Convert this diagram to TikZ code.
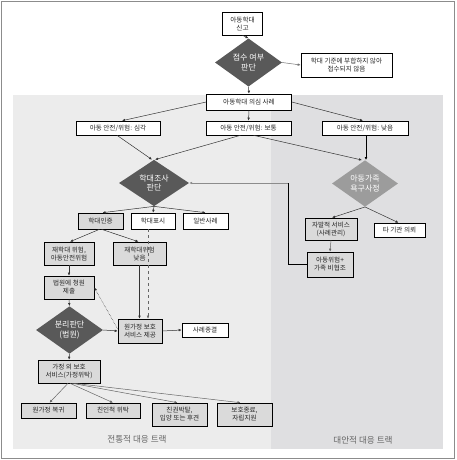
\documentclass[tikz,border=0pt]{standalone}
\usepackage{fontspec}
\setmainfont{Noto Sans CJK KR}
\usetikzlibrary{shapes.geometric,arrows.meta,calc}
\definecolor{darkd}{HTML}{595959}
\definecolor{lightd}{HTML}{9C9C9C}
\definecolor{boxg}{HTML}{DADADA}
\definecolor{leftbg}{HTML}{ECECEC}
\definecolor{rightbg}{HTML}{DFDFE1}
\definecolor{frame}{HTML}{8C8C8C}
\definecolor{lbl}{HTML}{666666}
\definecolor{ln}{HTML}{333333}
\tikzset{
  bx/.style={draw=black, line width=0.6pt, rectangle, inner sep=0pt, align=center,
    font=\fontsize{6.6}{8}\selectfont, text=black!85},
  wb/.style={bx, fill=white},
  gb/.style={bx, fill=boxg},
  dm/.style={diamond, inner sep=0pt, align=center, text=white,
    font=\fontsize{8}{9.8}\selectfont},
  dd/.style={dm, fill=darkd},
  ld/.style={dm, fill=lightd},
  ar/.style={draw=ln, line width=0.5pt, -{Latex[length=3pt,width=2.6pt]}},
  tracklbl/.style={text=lbl, font=\fontsize{8.6}{10}\selectfont}
}
\begin{document}
\begin{tikzpicture}[x=1pt,y=-1pt]
\useasboundingbox (0,0) rectangle (456,460);
\fill[white] (0,0) rectangle (456,460);
\fill[leftbg] (13,95) rectangle (271,449);
\fill[rightbg] (271,95) rectangle (443,449);
\draw[frame, line width=1pt] (1.5,1.5) rectangle (454.5,458);

\node[tracklbl] (t1) at (137,439) {전통적 대응 트랙};
\node[tracklbl] (t2) at (363,440) {대안적 대응 트랙};

\node[wb, minimum width=40pt, minimum height=23pt] (sin) at (242.5,23.5) {아동학대\\신고};
\node[dd, minimum width=67pt, minimum height=40pt] (d1) at (248.5,62.5) {접수 여부\\판단};
\node[wb, minimum width=91pt, minimum height=24pt] (rej) at (346.5,65) {학대 기준에 부합하지 않아\\접수되지 않음};
\node[wb, minimum width=85pt, minimum height=16pt] (sus) at (249,102) {아동학대 의심 사례};
\node[wb, minimum width=84pt, minimum height=14pt] (sev) at (118,128) {아동 안전/위험: 심각};
\node[wb, minimum width=85pt, minimum height=14pt] (mid) at (248.5,128) {아동 안전/위험: 보통};
\node[wb, minimum width=86pt, minimum height=14pt] (low) at (365,128) {아동 안전/위험: 낮음};

\node[dd, minimum width=70pt, minimum height=40pt] (d2) at (154,183) {학대조사\\판단};
\node[ld, minimum width=66pt, minimum height=40pt] (d3) at (365,183.5) {아동가족\\욕구사정};

\node[gb, minimum width=45pt, minimum height=16pt] (conf) at (100.5,221) {학대인증};
\node[wb, minimum width=44pt, minimum height=16pt] (ind) at (153,221) {학대표시};
\node[wb, minimum width=45pt, minimum height=16pt] (gen) at (205.5,221) {일반사례};

\node[gb, minimum width=50pt, minimum height=23pt] (hr) at (69,253.5) {재학대 위험,\\아동안전위험};
\node[gb, minimum width=53pt, minimum height=23pt] (lr) at (139.5,253.5) {재학대위험\\낮음};
\node[gb, minimum width=50pt, minimum height=23pt] (court) at (69,287.5) {법원에 청원\\제출};
\node[dd, minimum width=67pt, minimum height=38pt] (d4) at (69.5,330) {분리판단\\(법원)};
\node[gb, minimum width=44pt, minimum height=24pt] (home) at (140,331) {원가정 보호\\서비스 제공};
\node[wb, minimum width=46pt, minimum height=14pt] (close) at (205,330) {사례종결};
\node[gb, minimum width=62pt, minimum height=23pt] (foster) at (69,371.5) {가정 외 보호\\서비스(가정위탁)};

\node[gb, minimum width=55pt, minimum height=15pt] (b1) at (48.5,410.5) {원가정 복귀};
\node[gb, minimum width=54pt, minimum height=15pt] (b2) at (113,410.5) {친인척 위탁};
\node[gb, minimum width=55pt, minimum height=23pt] (b3) at (179.5,414.5) {친권박탈,\\입양 또는 후견};
\node[gb, minimum width=55pt, minimum height=23pt] (b4) at (244.5,414.5) {보호종료,\\자립지원};

\node[gb, minimum width=52pt, minimum height=22pt] (vol) at (331,229) {자발적 서비스\\(사례관리)};
\node[wb, minimum width=51pt, minimum height=14pt] (ref) at (399.5,230) {타 기관 의뢰};
\node[gb, minimum width=46pt, minimum height=25pt] (risk) at (330,264.5) {아동위험+\\가족 비협조};

\coordinate (rc1) at (288,264.5);
\coordinate (rc2) at (288,183);

% connectors
\draw[ar] (sin.south) -- (d1.north);
\draw[ar, draw=black!55] (d1.east) -- (rej.west);
\draw[ar] (d1.south) -- (sus.north);
\draw[ar] (sus.west) -- ($(sev.north)+(4,0)$);
\draw[ar] (sus.south) -- (mid.north);
\draw[ar] (sus.east) -- ($(low.north)+(-2,0)$);
\draw[ar] ($(sev.south)+(-1,0)$) -- ($(d2.north)+(-2,0)$);
\draw[ar] ($(mid.south)+(-8,0)$) -- ($(d2.north)+(1,0)$);
\draw[ar] ($(mid.south)+(5,0)$) -- ($(d3.north)+(-3,0)$);
\draw[draw=black, line width=1pt, -{Latex[length=3pt,width=2.8pt]}] ($(low.south)+(1,0)$) -- ($(d3.north)+(1,0)$);
\draw[ar] (d2.south) -- ($(conf.north)+(2,0)$);
\draw[ar] (d2.south) -- (ind.north);
\draw[ar] (d2.south) -- (gen.north);
\draw[ar] ($(conf.south)+(-1,0)$) -- ($(hr.north)+(1,0)$);
\draw[ar] ($(conf.south)+(1,0)$) -- ($(lr.north)+(-1,0)$);
\draw[ar] (lr.south) -- (lr.south |- home.north);
\draw[ar, dashed, draw=black!60] ($(ind.south)+(-5,0)$) -- ($(home.north)+(8,0)$);
\draw[ar] (hr.south) -- (court.north);
\draw[ar] (court.south) -- (d4.north);
\draw[ar] (d4.east) -- (home.west);
\draw[ar, densely dotted] ($(home.west)+(0,-2)$) -- (court.east);
\draw[ar] (home.east) -- (close.west);
\draw[ar] (d4.south) -- (foster.north);
\draw[ar, draw=black!60] ($(foster.south)+(-1,0)$) -- ($(b1.north)+(1,0)$);
\draw[ar, draw=black!60] ($(foster.south)+(1,0)$) -- (b2.north);
\draw[ar, draw=black!60] ($(foster.south)+(3,0)$) -- ($(b3.north)+(-2,0)$);
\draw[ar, draw=black!60] ($(foster.south)+(5,0)$) -- ($(b4.north)+(-4,0)$);
\draw[ar] (d3.south) -- ($(vol.north)+(1,0)$);
\draw[ar] (d3.south) -- ($(ref.north)+(-1,0)$);
\draw[ar, draw=black!60] (vol.south) -- (risk.north);
\draw[draw=black, line width=0.8pt] (risk.west) -- (rc1) -- (rc2);
\draw[ar, draw=black!45] (rc2) -- (d2.east);
\end{tikzpicture}
\end{document}
